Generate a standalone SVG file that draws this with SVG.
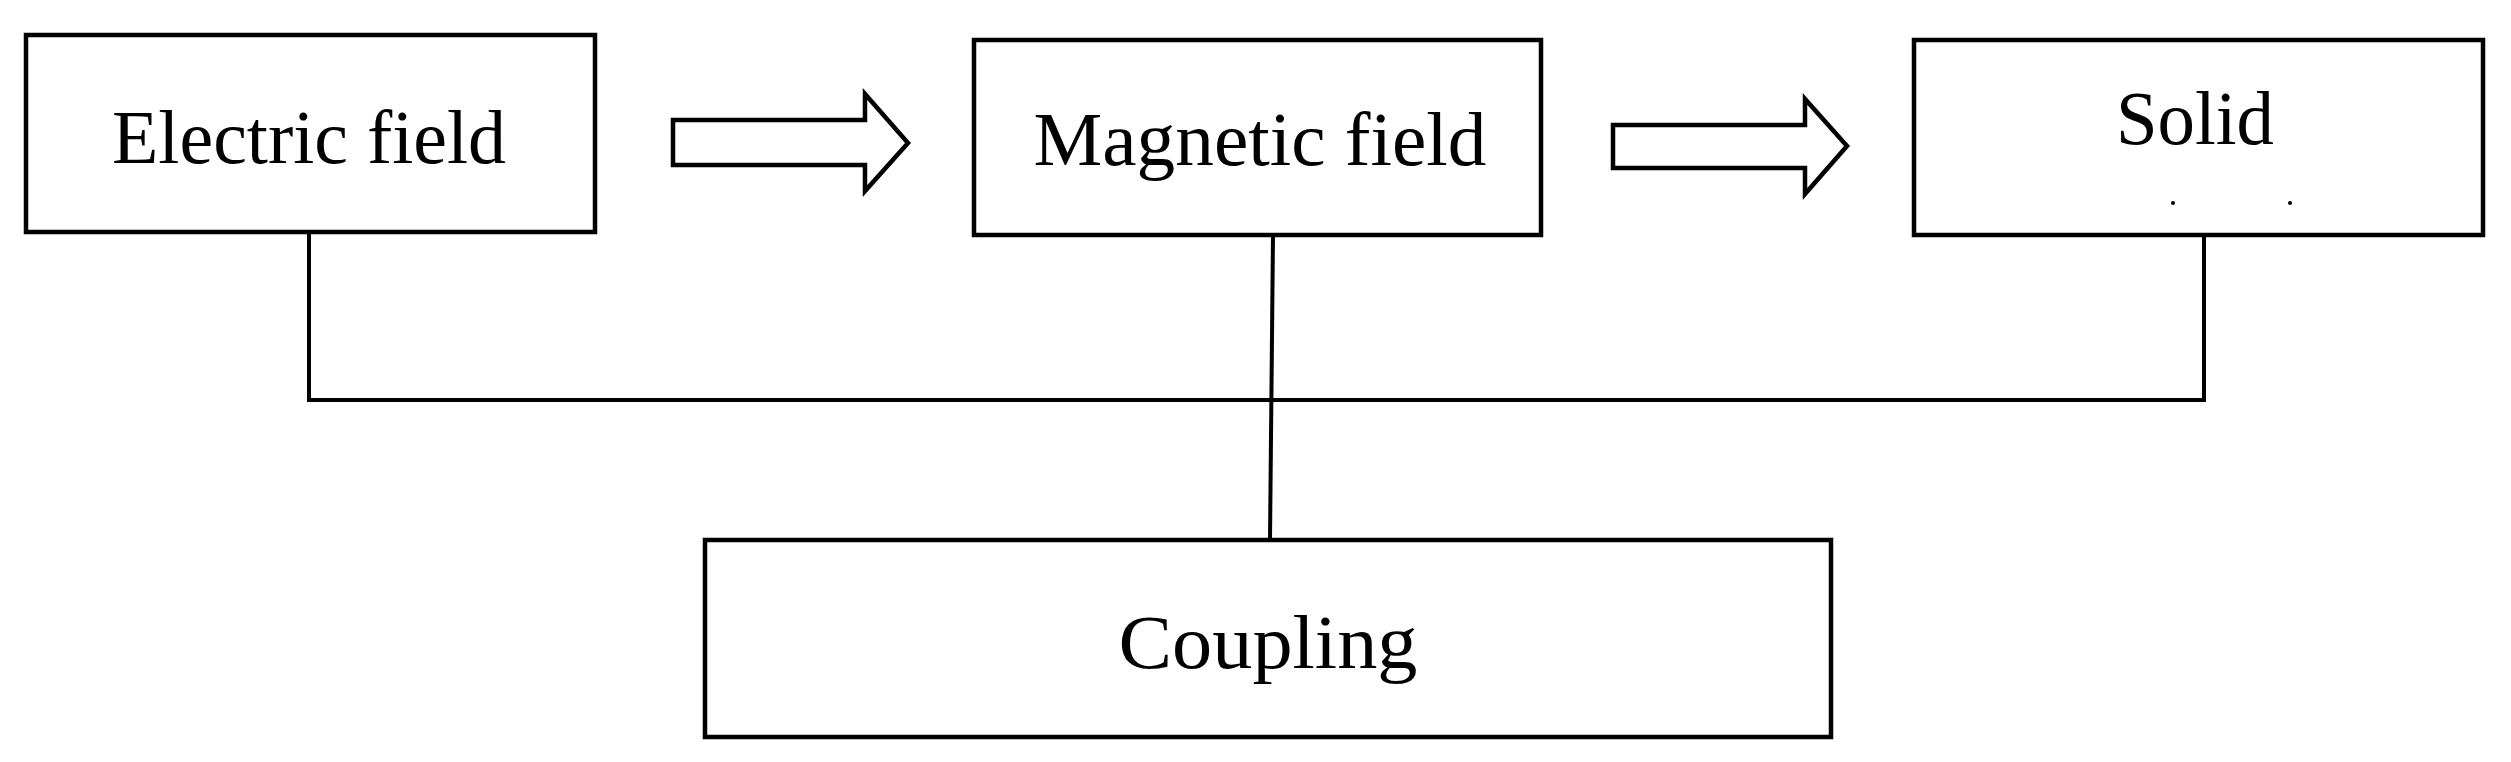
<svg xmlns="http://www.w3.org/2000/svg" width="2511" height="762" viewBox="0 0 2511 762">
<style>
.box{fill:#fff;stroke:#000;stroke-width:4.5}
.t{font-family:"Liberation Serif",serif;font-size:76px;fill:#000;text-anchor:middle}
.ln{fill:none;stroke:#000;stroke-width:4}
.ar{fill:#fff;stroke:#000;stroke-width:4.5;stroke-linejoin:miter}
</style>
<rect width="2511" height="762" fill="#fff"/>
<g id="connectors">
<polyline class="ln" points="309,232 309,400 2204,400 2204,235"/>
<line class="ln" x1="1273" y1="235" x2="1270" y2="540"/>
<polygon class="ar" points="673,120 865,120 865,94 908,143 865,191 865,165 673,165"/>
<polygon class="ar" points="1613,125 1805,125 1805,99 1847,146 1805,194 1805,168 1613,168"/>
</g>
<g id="electric">
<rect class="box" x="26" y="35" width="569" height="197"/>
<text class="t" x="309" y="163" textLength="394" lengthAdjust="spacingAndGlyphs">Electric field</text>
</g>
<g id="magnetic">
<rect class="box" x="974" y="40" width="567" height="195"/>
<text class="t" x="1260" y="165" textLength="453" lengthAdjust="spacingAndGlyphs">Magnetic field</text>
</g>
<g id="solid">
<rect class="box" x="1914" y="40" width="569" height="195"/>
<text class="t" x="2195" y="144" textLength="158" lengthAdjust="spacingAndGlyphs">Solid</text>
<circle cx="2173" cy="203" r="2"/>
<circle cx="2290" cy="203" r="2"/>
</g>
<g id="coupling">
<rect class="box" x="705" y="540" width="1126" height="197"/>
<text class="t" x="1268" y="668" textLength="299" lengthAdjust="spacingAndGlyphs">Coupling</text>
</g>
</svg>
